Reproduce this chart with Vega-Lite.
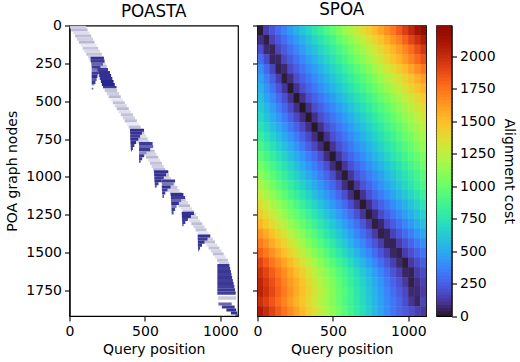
{"$schema":"https://vega.github.io/schema/vega-lite/v6.json","background":"white","padding":{"left":4.5,"top":1.5,"right":0,"bottom":0},"bounds":"flush","spacing":19,"config":{"font":"DejaVu Sans","view":{"stroke":"#000","strokeWidth":1.2},"axis":{"grid":false,"domainColor":"#000","domainWidth":1.2,"tickColor":"#000","tickWidth":1.1,"tickSize":5,"labelFontSize":14,"titleFontSize":14,"labelColor":"#000","titleColor":"#000","titleFontWeight":"normal","labelPadding":3,"labelFlush":false,"format":"d"},"title":{"fontSize":16.8,"fontWeight":"normal","color":"#000","offset":6}},"resolve":{"scale":{"color":"independent"}},"datasets":{"poasta":[
{"a":0,"b":110,"n":0,"m":20,"s":0.22},{"a":12,"b":120,"n":20,"m":40,"s":0.3},{"a":25,"b":132,"n":40,"m":60,"s":0.14},{"a":37,"b":144,"n":60,"m":80,"s":0.28},{"a":50,"b":156,"n":80,"m":100,"s":0.2},{"a":62,"b":166,"n":100,"m":120,"s":0.3},{"a":74,"b":178,"n":120,"m":140,"s":0.1},{"a":87,"b":190,"n":140,"m":160,"s":0.24},{"a":99,"b":202,"n":160,"m":180,"s":0.16},{"a":111,"b":214,"n":180,"m":200,"s":0.26},{"a":124,"b":224,"n":200,"m":220,"s":0.2},{"a":134,"b":232,"n":220,"m":240,"s":0.28},{"a":144,"b":240,"n":240,"m":260,"s":0.14},{"a":154,"b":248,"n":260,"m":280,"s":0.26},{"a":164,"b":256,"n":280,"m":300,"s":0.2},{"a":174,"b":264,"n":300,"m":320,"s":0.3},{"a":184,"b":272,"n":320,"m":340,"s":0.16},{"a":194,"b":280,"n":340,"m":360,"s":0.24},{"a":204,"b":290,"n":360,"m":380,"s":0.2},{"a":214,"b":300,"n":380,"m":400,"s":0.28},{"a":224,"b":308,"n":400,"m":420,"s":0.15},{"a":234,"b":316,"n":420,"m":440,"s":0.26},{"a":247,"b":328,"n":440,"m":460,"s":0.2},{"a":260,"b":340,"n":460,"m":480,"s":0.3},{"a":274,"b":354,"n":480,"m":500,"s":0.1},{"a":287,"b":367,"n":500,"m":520,"s":0.26},{"a":300,"b":380,"n":520,"m":540,"s":0.18},{"a":313,"b":393,"n":540,"m":560,"s":0.3},{"a":326,"b":406,"n":560,"m":580,"s":0.14},{"a":340,"b":420,"n":580,"m":600,"s":0.26},{"a":353,"b":433,"n":600,"m":620,"s":0.2},{"a":366,"b":446,"n":620,"m":640,"s":0.28},{"a":379,"b":459,"n":640,"m":660,"s":0.08},{"a":392,"b":472,"n":660,"m":680,"s":0.26},{"a":405,"b":485,"n":680,"m":700,"s":0.18},{"a":416,"b":496,"n":700,"m":720,"s":0.28},{"a":428,"b":508,"n":720,"m":740,"s":0.14},{"a":439,"b":519,"n":740,"m":760,"s":0.24},{"a":450,"b":530,"n":760,"m":780,"s":0.2},{"a":462,"b":542,"n":780,"m":800,"s":0.28},{"a":473,"b":553,"n":800,"m":820,"s":0.1},{"a":485,"b":565,"n":820,"m":840,"s":0.26},{"a":496,"b":576,"n":840,"m":860,"s":0.18},{"a":508,"b":588,"n":860,"m":880,"s":0.3},{"a":521,"b":601,"n":880,"m":900,"s":0.14},{"a":533,"b":613,"n":900,"m":920,"s":0.26},{"a":544,"b":624,"n":920,"m":940,"s":0.2},{"a":555,"b":635,"n":940,"m":960,"s":0.28},{"a":566,"b":646,"n":960,"m":980,"s":0.12},{"a":580,"b":660,"n":980,"m":1000,"s":0.26},{"a":594,"b":672,"n":1000,"m":1020,"s":0.18},{"a":608,"b":686,"n":1020,"m":1040,"s":0.3},{"a":623,"b":701,"n":1040,"m":1060,"s":0.14},{"a":637,"b":715,"n":1060,"m":1080,"s":0.24},{"a":651,"b":729,"n":1080,"m":1100,"s":0.18},{"a":666,"b":744,"n":1100,"m":1120,"s":0.28},{"a":680,"b":756,"n":1120,"m":1140,"s":0.08},{"a":694,"b":770,"n":1140,"m":1160,"s":0.26},{"a":708,"b":784,"n":1160,"m":1180,"s":0.18},{"a":723,"b":799,"n":1180,"m":1200,"s":0.3},{"a":737,"b":813,"n":1200,"m":1220,"s":0.14},{"a":751,"b":825,"n":1220,"m":1240,"s":0.26},{"a":766,"b":838,"n":1240,"m":1260,"s":0.2},{"a":780,"b":852,"n":1260,"m":1280,"s":0.24},{"a":794,"b":866,"n":1280,"m":1300,"s":0.14},{"a":808,"b":880,"n":1300,"m":1320,"s":0.28},{"a":822,"b":894,"n":1320,"m":1340,"s":0.2},{"a":836,"b":908,"n":1340,"m":1360,"s":0.26},{"a":851,"b":923,"n":1360,"m":1380,"s":0.1},{"a":865,"b":937,"n":1380,"m":1400,"s":0.26},{"a":879,"b":951,"n":1400,"m":1420,"s":0.2},{"a":893,"b":965,"n":1420,"m":1440,"s":0.28},{"a":907,"b":979,"n":1440,"m":1460,"s":0.14},{"a":922,"b":994,"n":1460,"m":1480,"s":0.26},{"a":936,"b":1008,"n":1480,"m":1500,"s":0.18},{"a":950,"b":1022,"n":1500,"m":1520,"s":0.28},{"a":964,"b":1036,"n":1520,"m":1540,"s":0.12},{"a":978,"b":1050,"n":1540,"m":1560,"s":0.26},{"a":990,"b":1058,"n":1560,"m":1580,"s":0.2},
{"a":140,"b":228,"n":206,"m":226,"s":0.95},{"a":142,"b":232,"n":226,"m":246,"s":0.9},{"a":145,"b":222,"n":246,"m":266,"s":0.7},{"a":147,"b":205,"n":266,"m":286,"s":0.9},{"a":147,"b":195,"n":286,"m":306,"s":0.6},{"a":147,"b":190,"n":306,"m":326,"s":0.9},{"a":147,"b":185,"n":326,"m":346,"s":0.95},{"a":147,"b":180,"n":346,"m":366,"s":0.75},{"a":147,"b":172,"n":366,"m":386,"s":0.9},{"a":147,"b":165,"n":386,"m":396,"s":0.5},{"a":147,"b":158,"n":411,"m":422,"s":0.7},
{"a":185,"b":255,"n":280,"m":300,"s":0.9},{"a":191,"b":268,"n":300,"m":320,"s":0.95},{"a":197,"b":276,"n":320,"m":340,"s":0.95},{"a":203,"b":284,"n":340,"m":360,"s":0.95},{"a":209,"b":292,"n":360,"m":380,"s":1},{"a":215,"b":300,"n":380,"m":400,"s":1},{"a":222,"b":312,"n":400,"m":414,"s":0.9},
{"a":401,"b":494,"n":682,"m":702,"s":0.95},{"a":402,"b":480,"n":702,"m":722,"s":0.95},{"a":402,"b":468,"n":722,"m":742,"s":0.9},{"a":403,"b":456,"n":742,"m":762,"s":0.95},{"a":404,"b":442,"n":762,"m":782,"s":0.95},{"a":405,"b":430,"n":782,"m":802,"s":0.9},{"a":406,"b":420,"n":802,"m":822,"s":0.9},{"a":408,"b":415,"n":822,"m":832,"s":0.8},
{"a":461,"b":551,"n":770,"m":790,"s":0.9},{"a":461,"b":555,"n":790,"m":810,"s":0.7},{"a":461,"b":535,"n":810,"m":830,"s":0.9},{"a":461,"b":510,"n":830,"m":850,"s":0.5},{"a":461,"b":495,"n":850,"m":870,"s":0.9},{"a":461,"b":482,"n":870,"m":890,"s":0.9},{"a":461,"b":472,"n":890,"m":907,"s":0.8},
{"a":560,"b":655,"n":956,"m":976,"s":0.95},{"a":561,"b":640,"n":976,"m":996,"s":0.95},{"a":562,"b":625,"n":996,"m":1016,"s":0.9},{"a":563,"b":610,"n":1016,"m":1036,"s":0.95},{"a":565,"b":590,"n":1036,"m":1056,"s":0.9},{"a":566,"b":578,"n":1056,"m":1070,"s":0.85},
{"a":611,"b":700,"n":1017,"m":1037,"s":0.9},{"a":612,"b":690,"n":1037,"m":1057,"s":0.6},{"a":612,"b":670,"n":1057,"m":1077,"s":0.95},{"a":613,"b":650,"n":1077,"m":1097,"s":0.9},{"a":614,"b":635,"n":1097,"m":1117,"s":0.9},{"a":616,"b":626,"n":1117,"m":1139,"s":0.8},
{"a":671,"b":755,"n":1106,"m":1126,"s":0.95},{"a":672,"b":766,"n":1126,"m":1146,"s":0.9},{"a":673,"b":740,"n":1146,"m":1166,"s":0.7},{"a":674,"b":725,"n":1166,"m":1186,"s":0.95},{"a":675,"b":710,"n":1186,"m":1206,"s":0.6},{"a":676,"b":700,"n":1206,"m":1226,"s":0.9},{"a":677,"b":690,"n":1226,"m":1249,"s":0.8},
{"a":744,"b":825,"n":1231,"m":1251,"s":0.95},{"a":745,"b":805,"n":1251,"m":1271,"s":0.95},{"a":746,"b":785,"n":1271,"m":1291,"s":0.9},{"a":747,"b":768,"n":1291,"m":1311,"s":0.9},{"a":748,"b":756,"n":1311,"m":1326,"s":0.85},
{"a":850,"b":932,"n":1381,"m":1401,"s":0.95},{"a":850,"b":915,"n":1401,"m":1421,"s":0.9},{"a":851,"b":895,"n":1421,"m":1441,"s":0.95},{"a":851,"b":878,"n":1441,"m":1461,"s":0.95},{"a":852,"b":865,"n":1461,"m":1481,"s":0.9},{"a":852,"b":857,"n":1481,"m":1491,"s":0.85},
{"a":980,"b":1060,"n":1575,"m":1595,"s":0.92},{"a":980,"b":1065,"n":1595,"m":1615,"s":0.88},{"a":980,"b":1070,"n":1615,"m":1635,"s":0.92},{"a":980,"b":1074,"n":1635,"m":1655,"s":0.88},{"a":980,"b":1078,"n":1655,"m":1675,"s":0.92},{"a":980,"b":1083,"n":1675,"m":1695,"s":0.88},{"a":980,"b":1088,"n":1695,"m":1715,"s":0.92},{"a":980,"b":1093,"n":1715,"m":1735,"s":0.88},{"a":980,"b":1097,"n":1735,"m":1755,"s":0.92},{"a":980,"b":1102,"n":1755,"m":1778,"s":0.88},
{"a":985,"b":1105,"n":1789,"m":1811,"s":0.22},
{"a":987,"b":1075,"n":1829,"m":1849,"s":0.7},{"a":1010,"b":1095,"n":1849,"m":1869,"s":0.9},{"a":1040,"b":1105,"n":1869,"m":1889,"s":0.95},{"a":1070,"b":1112,"n":1889,"m":1909,"s":0.95},{"a":1100,"b":1118,"n":1909,"m":1919,"s":0.9}
],"spoa":[
{"q":20,"n":32,"c":20},{"q":60,"n":32,"c":142},{"q":100,"n":32,"c":218},{"q":140,"n":32,"c":294},{"q":180,"n":32,"c":370},{"q":220,"n":32,"c":446},{"q":260,"n":32,"c":522},{"q":300,"n":32,"c":598},{"q":340,"n":32,"c":674},{"q":380,"n":32,"c":750},{"q":420,"n":32,"c":826},{"q":460,"n":32,"c":902},{"q":500,"n":32,"c":978},{"q":540,"n":32,"c":1054},{"q":580,"n":32,"c":1130},{"q":620,"n":32,"c":1206},{"q":660,"n":32,"c":1282},{"q":700,"n":32,"c":1358},{"q":740,"n":32,"c":1434},{"q":780,"n":32,"c":1510},{"q":820,"n":32,"c":1586},{"q":860,"n":32,"c":1662},{"q":900,"n":32,"c":1738},{"q":940,"n":32,"c":1834},{"q":980,"n":32,"c":1930},{"q":1020,"n":32,"c":2026},{"q":1060,"n":32,"c":2122},{"q":1100,"n":32,"c":2228},
{"q":20,"n":96,"c":90},{"q":60,"n":96,"c":30},{"q":100,"n":96,"c":153},{"q":140,"n":96,"c":227},{"q":180,"n":96,"c":301},{"q":220,"n":96,"c":375},{"q":260,"n":96,"c":449},{"q":300,"n":96,"c":523},{"q":340,"n":96,"c":597},{"q":380,"n":96,"c":671},{"q":420,"n":96,"c":745},{"q":460,"n":96,"c":819},{"q":500,"n":96,"c":893},{"q":540,"n":96,"c":967},{"q":580,"n":96,"c":1041},{"q":620,"n":96,"c":1115},{"q":660,"n":96,"c":1189},{"q":700,"n":96,"c":1263},{"q":740,"n":96,"c":1337},{"q":780,"n":96,"c":1411},{"q":820,"n":96,"c":1485},{"q":860,"n":96,"c":1559},{"q":900,"n":96,"c":1633},{"q":940,"n":96,"c":1707},{"q":980,"n":96,"c":1811},{"q":1020,"n":96,"c":1905},{"q":1060,"n":96,"c":1989},{"q":1100,"n":96,"c":2073},
{"q":20,"n":160,"c":200},{"q":60,"n":160,"c":70},{"q":100,"n":160,"c":50},{"q":140,"n":160,"c":164},{"q":180,"n":160,"c":236},{"q":220,"n":160,"c":308},{"q":260,"n":160,"c":380},{"q":300,"n":160,"c":452},{"q":340,"n":160,"c":524},{"q":380,"n":160,"c":596},{"q":420,"n":160,"c":668},{"q":460,"n":160,"c":740},{"q":500,"n":160,"c":812},{"q":540,"n":160,"c":884},{"q":580,"n":160,"c":956},{"q":620,"n":160,"c":1028},{"q":660,"n":160,"c":1100},{"q":700,"n":160,"c":1172},{"q":740,"n":160,"c":1244},{"q":780,"n":160,"c":1316},{"q":820,"n":160,"c":1388},{"q":860,"n":160,"c":1460},{"q":900,"n":160,"c":1532},{"q":940,"n":160,"c":1604},{"q":980,"n":160,"c":1696},{"q":1020,"n":160,"c":1778},{"q":1060,"n":160,"c":1870},{"q":1100,"n":160,"c":1962},
{"q":20,"n":224,"c":300},{"q":60,"n":224,"c":180},{"q":100,"n":224,"c":55},{"q":140,"n":224,"c":60},{"q":180,"n":224,"c":170},{"q":220,"n":224,"c":242},{"q":260,"n":224,"c":314},{"q":300,"n":224,"c":386},{"q":340,"n":224,"c":458},{"q":380,"n":224,"c":530},{"q":420,"n":224,"c":602},{"q":460,"n":224,"c":674},{"q":500,"n":224,"c":746},{"q":540,"n":224,"c":818},{"q":580,"n":224,"c":890},{"q":620,"n":224,"c":962},{"q":660,"n":224,"c":1034},{"q":700,"n":224,"c":1106},{"q":740,"n":224,"c":1178},{"q":780,"n":224,"c":1250},{"q":820,"n":224,"c":1322},{"q":860,"n":224,"c":1394},{"q":900,"n":224,"c":1466},{"q":940,"n":224,"c":1538},{"q":980,"n":224,"c":1620},{"q":1020,"n":224,"c":1702},{"q":1060,"n":224,"c":1784},{"q":1100,"n":224,"c":1866},
{"q":20,"n":288,"c":400},{"q":60,"n":288,"c":285},{"q":100,"n":288,"c":165},{"q":140,"n":288,"c":40},{"q":180,"n":288,"c":70},{"q":220,"n":288,"c":180},{"q":260,"n":288,"c":250},{"q":300,"n":288,"c":320},{"q":340,"n":288,"c":390},{"q":380,"n":288,"c":460},{"q":420,"n":288,"c":530},{"q":460,"n":288,"c":600},{"q":500,"n":288,"c":670},{"q":540,"n":288,"c":740},{"q":580,"n":288,"c":810},{"q":620,"n":288,"c":880},{"q":660,"n":288,"c":950},{"q":700,"n":288,"c":1020},{"q":740,"n":288,"c":1090},{"q":780,"n":288,"c":1160},{"q":820,"n":288,"c":1230},{"q":860,"n":288,"c":1300},{"q":900,"n":288,"c":1370},{"q":940,"n":288,"c":1440},{"q":980,"n":288,"c":1510},{"q":1020,"n":288,"c":1590},{"q":1060,"n":288,"c":1660},{"q":1100,"n":288,"c":1740},
{"q":20,"n":352,"c":470},{"q":60,"n":352,"c":360},{"q":100,"n":352,"c":250},{"q":140,"n":352,"c":140},{"q":180,"n":352,"c":25},{"q":220,"n":352,"c":85},{"q":260,"n":352,"c":190},{"q":300,"n":352,"c":258},{"q":340,"n":352,"c":326},{"q":380,"n":352,"c":394},{"q":420,"n":352,"c":462},{"q":460,"n":352,"c":530},{"q":500,"n":352,"c":598},{"q":540,"n":352,"c":666},{"q":580,"n":352,"c":734},{"q":620,"n":352,"c":802},{"q":660,"n":352,"c":870},{"q":700,"n":352,"c":938},{"q":740,"n":352,"c":1006},{"q":780,"n":352,"c":1074},{"q":820,"n":352,"c":1142},{"q":860,"n":352,"c":1210},{"q":900,"n":352,"c":1278},{"q":940,"n":352,"c":1346},{"q":980,"n":352,"c":1414},{"q":1020,"n":352,"c":1482},{"q":1060,"n":352,"c":1550},{"q":1100,"n":352,"c":1618},
{"q":20,"n":416,"c":525},{"q":60,"n":416,"c":420},{"q":100,"n":416,"c":315},{"q":140,"n":416,"c":215},{"q":180,"n":416,"c":115},{"q":220,"n":416,"c":15},{"q":260,"n":416,"c":100},{"q":300,"n":416,"c":200},{"q":340,"n":416,"c":267},{"q":380,"n":416,"c":334},{"q":420,"n":416,"c":401},{"q":460,"n":416,"c":468},{"q":500,"n":416,"c":535},{"q":540,"n":416,"c":602},{"q":580,"n":416,"c":669},{"q":620,"n":416,"c":736},{"q":660,"n":416,"c":803},{"q":700,"n":416,"c":870},{"q":740,"n":416,"c":937},{"q":780,"n":416,"c":1004},{"q":820,"n":416,"c":1071},{"q":860,"n":416,"c":1138},{"q":900,"n":416,"c":1205},{"q":940,"n":416,"c":1272},{"q":980,"n":416,"c":1339},{"q":1020,"n":416,"c":1406},{"q":1060,"n":416,"c":1473},{"q":1100,"n":416,"c":1540},
{"q":20,"n":480,"c":580},{"q":60,"n":480,"c":480},{"q":100,"n":480,"c":385},{"q":140,"n":480,"c":290},{"q":180,"n":480,"c":195},{"q":220,"n":480,"c":100},{"q":260,"n":480,"c":10},{"q":300,"n":480,"c":100},{"q":340,"n":480,"c":195},{"q":380,"n":480,"c":261},{"q":420,"n":480,"c":327},{"q":460,"n":480,"c":393},{"q":500,"n":480,"c":459},{"q":540,"n":480,"c":525},{"q":580,"n":480,"c":591},{"q":620,"n":480,"c":657},{"q":660,"n":480,"c":723},{"q":700,"n":480,"c":789},{"q":740,"n":480,"c":855},{"q":780,"n":480,"c":921},{"q":820,"n":480,"c":987},{"q":860,"n":480,"c":1053},{"q":900,"n":480,"c":1119},{"q":940,"n":480,"c":1185},{"q":980,"n":480,"c":1251},{"q":1020,"n":480,"c":1317},{"q":1060,"n":480,"c":1383},{"q":1100,"n":480,"c":1449},
{"q":20,"n":544,"c":625},{"q":60,"n":544,"c":540},{"q":100,"n":544,"c":450},{"q":140,"n":544,"c":360},{"q":180,"n":544,"c":270},{"q":220,"n":544,"c":180},{"q":260,"n":544,"c":90},{"q":300,"n":544,"c":8},{"q":340,"n":544,"c":95},{"q":380,"n":544,"c":190},{"q":420,"n":544,"c":256},{"q":460,"n":544,"c":322},{"q":500,"n":544,"c":388},{"q":540,"n":544,"c":454},{"q":580,"n":544,"c":520},{"q":620,"n":544,"c":586},{"q":660,"n":544,"c":652},{"q":700,"n":544,"c":718},{"q":740,"n":544,"c":784},{"q":780,"n":544,"c":850},{"q":820,"n":544,"c":916},{"q":860,"n":544,"c":982},{"q":900,"n":544,"c":1048},{"q":940,"n":544,"c":1114},{"q":980,"n":544,"c":1180},{"q":1020,"n":544,"c":1246},{"q":1060,"n":544,"c":1312},{"q":1100,"n":544,"c":1378},
{"q":20,"n":608,"c":680},{"q":60,"n":608,"c":595},{"q":100,"n":608,"c":510},{"q":140,"n":608,"c":425},{"q":180,"n":608,"c":340},{"q":220,"n":608,"c":255},{"q":260,"n":608,"c":170},{"q":300,"n":608,"c":85},{"q":340,"n":608,"c":10},{"q":380,"n":608,"c":95},{"q":420,"n":608,"c":190},{"q":460,"n":608,"c":256},{"q":500,"n":608,"c":322},{"q":540,"n":608,"c":388},{"q":580,"n":608,"c":454},{"q":620,"n":608,"c":520},{"q":660,"n":608,"c":586},{"q":700,"n":608,"c":652},{"q":740,"n":608,"c":718},{"q":780,"n":608,"c":784},{"q":820,"n":608,"c":850},{"q":860,"n":608,"c":916},{"q":900,"n":608,"c":982},{"q":940,"n":608,"c":1048},{"q":980,"n":608,"c":1114},{"q":1020,"n":608,"c":1180},{"q":1060,"n":608,"c":1246},{"q":1100,"n":608,"c":1312},
{"q":20,"n":672,"c":740},{"q":60,"n":672,"c":660},{"q":100,"n":672,"c":580},{"q":140,"n":672,"c":500},{"q":180,"n":672,"c":420},{"q":220,"n":672,"c":340},{"q":260,"n":672,"c":260},{"q":300,"n":672,"c":175},{"q":340,"n":672,"c":90},{"q":380,"n":672,"c":10},{"q":420,"n":672,"c":95},{"q":460,"n":672,"c":190},{"q":500,"n":672,"c":256},{"q":540,"n":672,"c":322},{"q":580,"n":672,"c":388},{"q":620,"n":672,"c":454},{"q":660,"n":672,"c":520},{"q":700,"n":672,"c":586},{"q":740,"n":672,"c":652},{"q":780,"n":672,"c":718},{"q":820,"n":672,"c":784},{"q":860,"n":672,"c":850},{"q":900,"n":672,"c":916},{"q":940,"n":672,"c":982},{"q":980,"n":672,"c":1048},{"q":1020,"n":672,"c":1114},{"q":1060,"n":672,"c":1180},{"q":1100,"n":672,"c":1246},
{"q":20,"n":736,"c":810},{"q":60,"n":736,"c":735},{"q":100,"n":736,"c":655},{"q":140,"n":736,"c":575},{"q":180,"n":736,"c":495},{"q":220,"n":736,"c":415},{"q":260,"n":736,"c":335},{"q":300,"n":736,"c":255},{"q":340,"n":736,"c":175},{"q":380,"n":736,"c":85},{"q":420,"n":736,"c":10},{"q":460,"n":736,"c":100},{"q":500,"n":736,"c":195},{"q":540,"n":736,"c":261},{"q":580,"n":736,"c":327},{"q":620,"n":736,"c":393},{"q":660,"n":736,"c":459},{"q":700,"n":736,"c":525},{"q":740,"n":736,"c":591},{"q":780,"n":736,"c":657},{"q":820,"n":736,"c":723},{"q":860,"n":736,"c":789},{"q":900,"n":736,"c":855},{"q":940,"n":736,"c":921},{"q":980,"n":736,"c":987},{"q":1020,"n":736,"c":1053},{"q":1060,"n":736,"c":1119},{"q":1100,"n":736,"c":1185},
{"q":20,"n":800,"c":900},{"q":60,"n":800,"c":820},{"q":100,"n":800,"c":740},{"q":140,"n":800,"c":660},{"q":180,"n":800,"c":580},{"q":220,"n":800,"c":500},{"q":260,"n":800,"c":420},{"q":300,"n":800,"c":335},{"q":340,"n":800,"c":250},{"q":380,"n":800,"c":170},{"q":420,"n":800,"c":85},{"q":460,"n":800,"c":12},{"q":500,"n":800,"c":105},{"q":540,"n":800,"c":200},{"q":580,"n":800,"c":266},{"q":620,"n":800,"c":332},{"q":660,"n":800,"c":398},{"q":700,"n":800,"c":464},{"q":740,"n":800,"c":530},{"q":780,"n":800,"c":596},{"q":820,"n":800,"c":662},{"q":860,"n":800,"c":728},{"q":900,"n":800,"c":794},{"q":940,"n":800,"c":860},{"q":980,"n":800,"c":926},{"q":1020,"n":800,"c":992},{"q":1060,"n":800,"c":1058},{"q":1100,"n":800,"c":1124},
{"q":20,"n":864,"c":965},{"q":60,"n":864,"c":890},{"q":100,"n":864,"c":815},{"q":140,"n":864,"c":735},{"q":180,"n":864,"c":660},{"q":220,"n":864,"c":585},{"q":260,"n":864,"c":510},{"q":300,"n":864,"c":430},{"q":340,"n":864,"c":355},{"q":380,"n":864,"c":280},{"q":420,"n":864,"c":195},{"q":460,"n":864,"c":85},{"q":500,"n":864,"c":15},{"q":540,"n":864,"c":110},{"q":580,"n":864,"c":205},{"q":620,"n":864,"c":271},{"q":660,"n":864,"c":337},{"q":700,"n":864,"c":403},{"q":740,"n":864,"c":469},{"q":780,"n":864,"c":535},{"q":820,"n":864,"c":601},{"q":860,"n":864,"c":667},{"q":900,"n":864,"c":733},{"q":940,"n":864,"c":799},{"q":980,"n":864,"c":865},{"q":1020,"n":864,"c":931},{"q":1060,"n":864,"c":997},{"q":1100,"n":864,"c":1063},
{"q":20,"n":928,"c":1040},{"q":60,"n":928,"c":965},{"q":100,"n":928,"c":885},{"q":140,"n":928,"c":810},{"q":180,"n":928,"c":735},{"q":220,"n":928,"c":660},{"q":260,"n":928,"c":585},{"q":300,"n":928,"c":505},{"q":340,"n":928,"c":430},{"q":380,"n":928,"c":355},{"q":420,"n":928,"c":280},{"q":460,"n":928,"c":195},{"q":500,"n":928,"c":85},{"q":540,"n":928,"c":18},{"q":580,"n":928,"c":112},{"q":620,"n":928,"c":208},{"q":660,"n":928,"c":274},{"q":700,"n":928,"c":340},{"q":740,"n":928,"c":406},{"q":780,"n":928,"c":472},{"q":820,"n":928,"c":538},{"q":860,"n":928,"c":604},{"q":900,"n":928,"c":670},{"q":940,"n":928,"c":736},{"q":980,"n":928,"c":802},{"q":1020,"n":928,"c":868},{"q":1060,"n":928,"c":934},{"q":1100,"n":928,"c":1000},
{"q":20,"n":992,"c":1110},{"q":60,"n":992,"c":1035},{"q":100,"n":992,"c":960},{"q":140,"n":992,"c":885},{"q":180,"n":992,"c":810},{"q":220,"n":992,"c":730},{"q":260,"n":992,"c":655},{"q":300,"n":992,"c":580},{"q":340,"n":992,"c":505},{"q":380,"n":992,"c":430},{"q":420,"n":992,"c":350},{"q":460,"n":992,"c":275},{"q":500,"n":992,"c":190},{"q":540,"n":992,"c":85},{"q":580,"n":992,"c":20},{"q":620,"n":992,"c":115},{"q":660,"n":992,"c":210},{"q":700,"n":992,"c":276},{"q":740,"n":992,"c":342},{"q":780,"n":992,"c":408},{"q":820,"n":992,"c":474},{"q":860,"n":992,"c":540},{"q":900,"n":992,"c":606},{"q":940,"n":992,"c":672},{"q":980,"n":992,"c":738},{"q":1020,"n":992,"c":804},{"q":1060,"n":992,"c":870},{"q":1100,"n":992,"c":936},
{"q":20,"n":1056,"c":1190},{"q":60,"n":1056,"c":1115},{"q":100,"n":1056,"c":1035},{"q":140,"n":1056,"c":960},{"q":180,"n":1056,"c":885},{"q":220,"n":1056,"c":810},{"q":260,"n":1056,"c":730},{"q":300,"n":1056,"c":655},{"q":340,"n":1056,"c":580},{"q":380,"n":1056,"c":505},{"q":420,"n":1056,"c":430},{"q":460,"n":1056,"c":350},{"q":500,"n":1056,"c":275},{"q":540,"n":1056,"c":190},{"q":580,"n":1056,"c":85},{"q":620,"n":1056,"c":20},{"q":660,"n":1056,"c":115},{"q":700,"n":1056,"c":210},{"q":740,"n":1056,"c":278},{"q":780,"n":1056,"c":346},{"q":820,"n":1056,"c":414},{"q":860,"n":1056,"c":482},{"q":900,"n":1056,"c":550},{"q":940,"n":1056,"c":618},{"q":980,"n":1056,"c":686},{"q":1020,"n":1056,"c":754},{"q":1060,"n":1056,"c":822},{"q":1100,"n":1056,"c":890},
{"q":20,"n":1120,"c":1270},{"q":60,"n":1120,"c":1195},{"q":100,"n":1120,"c":1120},{"q":140,"n":1120,"c":1045},{"q":180,"n":1120,"c":965},{"q":220,"n":1120,"c":890},{"q":260,"n":1120,"c":815},{"q":300,"n":1120,"c":740},{"q":340,"n":1120,"c":665},{"q":380,"n":1120,"c":585},{"q":420,"n":1120,"c":510},{"q":460,"n":1120,"c":435},{"q":500,"n":1120,"c":360},{"q":540,"n":1120,"c":280},{"q":580,"n":1120,"c":195},{"q":620,"n":1120,"c":90},{"q":660,"n":1120,"c":12},{"q":700,"n":1120,"c":105},{"q":740,"n":1120,"c":205},{"q":780,"n":1120,"c":273},{"q":820,"n":1120,"c":341},{"q":860,"n":1120,"c":409},{"q":900,"n":1120,"c":477},{"q":940,"n":1120,"c":545},{"q":980,"n":1120,"c":613},{"q":1020,"n":1120,"c":681},{"q":1060,"n":1120,"c":749},{"q":1100,"n":1120,"c":817},
{"q":20,"n":1184,"c":1360},{"q":60,"n":1184,"c":1285},{"q":100,"n":1184,"c":1205},{"q":140,"n":1184,"c":1130},{"q":180,"n":1184,"c":1055},{"q":220,"n":1184,"c":980},{"q":260,"n":1184,"c":905},{"q":300,"n":1184,"c":825},{"q":340,"n":1184,"c":750},{"q":380,"n":1184,"c":675},{"q":420,"n":1184,"c":600},{"q":460,"n":1184,"c":520},{"q":500,"n":1184,"c":445},{"q":540,"n":1184,"c":370},{"q":580,"n":1184,"c":290},{"q":620,"n":1184,"c":200},{"q":660,"n":1184,"c":105},{"q":700,"n":1184,"c":14},{"q":740,"n":1184,"c":90},{"q":780,"n":1184,"c":190},{"q":820,"n":1184,"c":258},{"q":860,"n":1184,"c":326},{"q":900,"n":1184,"c":394},{"q":940,"n":1184,"c":462},{"q":980,"n":1184,"c":530},{"q":1020,"n":1184,"c":598},{"q":1060,"n":1184,"c":666},{"q":1100,"n":1184,"c":734},
{"q":20,"n":1248,"c":1440},{"q":60,"n":1248,"c":1365},{"q":100,"n":1248,"c":1290},{"q":140,"n":1248,"c":1215},{"q":180,"n":1248,"c":1135},{"q":220,"n":1248,"c":1060},{"q":260,"n":1248,"c":985},{"q":300,"n":1248,"c":910},{"q":340,"n":1248,"c":835},{"q":380,"n":1248,"c":755},{"q":420,"n":1248,"c":680},{"q":460,"n":1248,"c":605},{"q":500,"n":1248,"c":530},{"q":540,"n":1248,"c":455},{"q":580,"n":1248,"c":375},{"q":620,"n":1248,"c":300},{"q":660,"n":1248,"c":210},{"q":700,"n":1248,"c":115},{"q":740,"n":1248,"c":22},{"q":780,"n":1248,"c":80},{"q":820,"n":1248,"c":180},{"q":860,"n":1248,"c":248},{"q":900,"n":1248,"c":316},{"q":940,"n":1248,"c":384},{"q":980,"n":1248,"c":452},{"q":1020,"n":1248,"c":520},{"q":1060,"n":1248,"c":588},{"q":1100,"n":1248,"c":656},
{"q":20,"n":1312,"c":1530},{"q":60,"n":1312,"c":1450},{"q":100,"n":1312,"c":1375},{"q":140,"n":1312,"c":1300},{"q":180,"n":1312,"c":1225},{"q":220,"n":1312,"c":1145},{"q":260,"n":1312,"c":1070},{"q":300,"n":1312,"c":995},{"q":340,"n":1312,"c":920},{"q":380,"n":1312,"c":840},{"q":420,"n":1312,"c":765},{"q":460,"n":1312,"c":690},{"q":500,"n":1312,"c":615},{"q":540,"n":1312,"c":540},{"q":580,"n":1312,"c":460},{"q":620,"n":1312,"c":385},{"q":660,"n":1312,"c":310},{"q":700,"n":1312,"c":225},{"q":740,"n":1312,"c":130},{"q":780,"n":1312,"c":30},{"q":820,"n":1312,"c":65},{"q":860,"n":1312,"c":170},{"q":900,"n":1312,"c":238},{"q":940,"n":1312,"c":306},{"q":980,"n":1312,"c":374},{"q":1020,"n":1312,"c":442},{"q":1060,"n":1312,"c":510},{"q":1100,"n":1312,"c":578},
{"q":20,"n":1376,"c":1640},{"q":60,"n":1376,"c":1560},{"q":100,"n":1376,"c":1480},{"q":140,"n":1376,"c":1400},{"q":180,"n":1376,"c":1325},{"q":220,"n":1376,"c":1245},{"q":260,"n":1376,"c":1165},{"q":300,"n":1376,"c":1090},{"q":340,"n":1376,"c":1010},{"q":380,"n":1376,"c":930},{"q":420,"n":1376,"c":850},{"q":460,"n":1376,"c":770},{"q":500,"n":1376,"c":695},{"q":540,"n":1376,"c":615},{"q":580,"n":1376,"c":540},{"q":620,"n":1376,"c":460},{"q":660,"n":1376,"c":380},{"q":700,"n":1376,"c":305},{"q":740,"n":1376,"c":225},{"q":780,"n":1376,"c":135},{"q":820,"n":1376,"c":35},{"q":860,"n":1376,"c":55},{"q":900,"n":1376,"c":155},{"q":940,"n":1376,"c":223},{"q":980,"n":1376,"c":291},{"q":1020,"n":1376,"c":359},{"q":1060,"n":1376,"c":427},{"q":1100,"n":1376,"c":495},
{"q":20,"n":1440,"c":1730},{"q":60,"n":1440,"c":1650},{"q":100,"n":1440,"c":1570},{"q":140,"n":1440,"c":1490},{"q":180,"n":1440,"c":1410},{"q":220,"n":1440,"c":1330},{"q":260,"n":1440,"c":1250},{"q":300,"n":1440,"c":1170},{"q":340,"n":1440,"c":1090},{"q":380,"n":1440,"c":1010},{"q":420,"n":1440,"c":930},{"q":460,"n":1440,"c":850},{"q":500,"n":1440,"c":775},{"q":540,"n":1440,"c":695},{"q":580,"n":1440,"c":615},{"q":620,"n":1440,"c":535},{"q":660,"n":1440,"c":455},{"q":700,"n":1440,"c":375},{"q":740,"n":1440,"c":295},{"q":780,"n":1440,"c":215},{"q":820,"n":1440,"c":140},{"q":860,"n":1440,"c":50},{"q":900,"n":1440,"c":45},{"q":940,"n":1440,"c":140},{"q":980,"n":1440,"c":205},{"q":1020,"n":1440,"c":270},{"q":1060,"n":1440,"c":335},{"q":1100,"n":1440,"c":400},
{"q":20,"n":1504,"c":1815},{"q":60,"n":1504,"c":1735},{"q":100,"n":1504,"c":1655},{"q":140,"n":1504,"c":1575},{"q":180,"n":1504,"c":1495},{"q":220,"n":1504,"c":1415},{"q":260,"n":1504,"c":1335},{"q":300,"n":1504,"c":1255},{"q":340,"n":1504,"c":1175},{"q":380,"n":1504,"c":1095},{"q":420,"n":1504,"c":1015},{"q":460,"n":1504,"c":935},{"q":500,"n":1504,"c":855},{"q":540,"n":1504,"c":775},{"q":580,"n":1504,"c":695},{"q":620,"n":1504,"c":615},{"q":660,"n":1504,"c":535},{"q":700,"n":1504,"c":455},{"q":740,"n":1504,"c":375},{"q":780,"n":1504,"c":295},{"q":820,"n":1504,"c":215},{"q":860,"n":1504,"c":145},{"q":900,"n":1504,"c":60},{"q":940,"n":1504,"c":40},{"q":980,"n":1504,"c":135},{"q":1020,"n":1504,"c":200},{"q":1060,"n":1504,"c":260},{"q":1100,"n":1504,"c":320},
{"q":20,"n":1568,"c":1910},{"q":60,"n":1568,"c":1830},{"q":100,"n":1568,"c":1750},{"q":140,"n":1568,"c":1670},{"q":180,"n":1568,"c":1585},{"q":220,"n":1568,"c":1505},{"q":260,"n":1568,"c":1425},{"q":300,"n":1568,"c":1345},{"q":340,"n":1568,"c":1265},{"q":380,"n":1568,"c":1185},{"q":420,"n":1568,"c":1105},{"q":460,"n":1568,"c":1025},{"q":500,"n":1568,"c":945},{"q":540,"n":1568,"c":865},{"q":580,"n":1568,"c":785},{"q":620,"n":1568,"c":705},{"q":660,"n":1568,"c":625},{"q":700,"n":1568,"c":545},{"q":740,"n":1568,"c":465},{"q":780,"n":1568,"c":385},{"q":820,"n":1568,"c":305},{"q":860,"n":1568,"c":225},{"q":900,"n":1568,"c":150},{"q":940,"n":1568,"c":70},{"q":980,"n":1568,"c":25},{"q":1020,"n":1568,"c":125},{"q":1060,"n":1568,"c":185},{"q":1100,"n":1568,"c":240},
{"q":20,"n":1632,"c":1985},{"q":60,"n":1632,"c":1905},{"q":100,"n":1632,"c":1825},{"q":140,"n":1632,"c":1745},{"q":180,"n":1632,"c":1665},{"q":220,"n":1632,"c":1580},{"q":260,"n":1632,"c":1500},{"q":300,"n":1632,"c":1420},{"q":340,"n":1632,"c":1340},{"q":380,"n":1632,"c":1260},{"q":420,"n":1632,"c":1180},{"q":460,"n":1632,"c":1100},{"q":500,"n":1632,"c":1020},{"q":540,"n":1632,"c":940},{"q":580,"n":1632,"c":860},{"q":620,"n":1632,"c":780},{"q":660,"n":1632,"c":700},{"q":700,"n":1632,"c":620},{"q":740,"n":1632,"c":540},{"q":780,"n":1632,"c":460},{"q":820,"n":1632,"c":380},{"q":860,"n":1632,"c":300},{"q":900,"n":1632,"c":220},{"q":940,"n":1632,"c":150},{"q":980,"n":1632,"c":60},{"q":1020,"n":1632,"c":45},{"q":1060,"n":1632,"c":130},{"q":1100,"n":1632,"c":180},
{"q":20,"n":1696,"c":2030},{"q":60,"n":1696,"c":1950},{"q":100,"n":1696,"c":1870},{"q":140,"n":1696,"c":1790},{"q":180,"n":1696,"c":1705},{"q":220,"n":1696,"c":1625},{"q":260,"n":1696,"c":1545},{"q":300,"n":1696,"c":1465},{"q":340,"n":1696,"c":1385},{"q":380,"n":1696,"c":1305},{"q":420,"n":1696,"c":1225},{"q":460,"n":1696,"c":1145},{"q":500,"n":1696,"c":1065},{"q":540,"n":1696,"c":985},{"q":580,"n":1696,"c":905},{"q":620,"n":1696,"c":825},{"q":660,"n":1696,"c":745},{"q":700,"n":1696,"c":665},{"q":740,"n":1696,"c":585},{"q":780,"n":1696,"c":505},{"q":820,"n":1696,"c":425},{"q":860,"n":1696,"c":345},{"q":900,"n":1696,"c":275},{"q":940,"n":1696,"c":205},{"q":980,"n":1696,"c":125},{"q":1020,"n":1696,"c":35},{"q":1060,"n":1696,"c":90},{"q":1100,"n":1696,"c":150},
{"q":20,"n":1760,"c":2050},{"q":60,"n":1760,"c":1975},{"q":100,"n":1760,"c":1895},{"q":140,"n":1760,"c":1815},{"q":180,"n":1760,"c":1730},{"q":220,"n":1760,"c":1650},{"q":260,"n":1760,"c":1565},{"q":300,"n":1760,"c":1490},{"q":340,"n":1760,"c":1410},{"q":380,"n":1760,"c":1330},{"q":420,"n":1760,"c":1250},{"q":460,"n":1760,"c":1170},{"q":500,"n":1760,"c":1090},{"q":540,"n":1760,"c":1010},{"q":580,"n":1760,"c":930},{"q":620,"n":1760,"c":850},{"q":660,"n":1760,"c":770},{"q":700,"n":1760,"c":690},{"q":740,"n":1760,"c":610},{"q":780,"n":1760,"c":530},{"q":820,"n":1760,"c":450},{"q":860,"n":1760,"c":375},{"q":900,"n":1760,"c":305},{"q":940,"n":1760,"c":240},{"q":980,"n":1760,"c":175},{"q":1020,"n":1760,"c":70},{"q":1060,"n":1760,"c":70},{"q":1100,"n":1760,"c":130},
{"q":20,"n":1824,"c":1990},{"q":60,"n":1824,"c":1925},{"q":100,"n":1824,"c":1850},{"q":140,"n":1824,"c":1775},{"q":180,"n":1824,"c":1695},{"q":220,"n":1824,"c":1620},{"q":260,"n":1824,"c":1540},{"q":300,"n":1824,"c":1465},{"q":340,"n":1824,"c":1390},{"q":380,"n":1824,"c":1310},{"q":420,"n":1824,"c":1235},{"q":460,"n":1824,"c":1160},{"q":500,"n":1824,"c":1085},{"q":540,"n":1824,"c":1005},{"q":580,"n":1824,"c":925},{"q":620,"n":1824,"c":850},{"q":660,"n":1824,"c":775},{"q":700,"n":1824,"c":700},{"q":740,"n":1824,"c":625},{"q":780,"n":1824,"c":545},{"q":820,"n":1824,"c":470},{"q":860,"n":1824,"c":395},{"q":900,"n":1824,"c":330},{"q":940,"n":1824,"c":270},{"q":980,"n":1824,"c":200},{"q":1020,"n":1824,"c":105},{"q":1060,"n":1824,"c":55},{"q":1100,"n":1824,"c":160},
{"q":20,"n":1888,"c":2080},{"q":60,"n":1888,"c":2000},{"q":100,"n":1888,"c":1915},{"q":140,"n":1888,"c":1835},{"q":180,"n":1888,"c":1755},{"q":220,"n":1888,"c":1675},{"q":260,"n":1888,"c":1595},{"q":300,"n":1888,"c":1515},{"q":340,"n":1888,"c":1435},{"q":380,"n":1888,"c":1355},{"q":420,"n":1888,"c":1275},{"q":460,"n":1888,"c":1195},{"q":500,"n":1888,"c":1115},{"q":540,"n":1888,"c":1035},{"q":580,"n":1888,"c":955},{"q":620,"n":1888,"c":875},{"q":660,"n":1888,"c":795},{"q":700,"n":1888,"c":715},{"q":740,"n":1888,"c":635},{"q":780,"n":1888,"c":555},{"q":820,"n":1888,"c":475},{"q":860,"n":1888,"c":400},{"q":900,"n":1888,"c":330},{"q":940,"n":1888,"c":270},{"q":980,"n":1888,"c":230},{"q":1020,"n":1888,"c":190},{"q":1060,"n":1888,"c":150},{"q":1100,"n":1888,"c":120}
],"bar":[{"c":0},{"c":25},{"c":50},{"c":75},{"c":100},{"c":125},{"c":150},{"c":175},{"c":200},{"c":225},{"c":250},{"c":275},{"c":300},{"c":325},{"c":350},{"c":375},{"c":400},{"c":425},{"c":450},{"c":475},{"c":500},{"c":525},{"c":550},{"c":575},{"c":600},{"c":625},{"c":650},{"c":675},{"c":700},{"c":725},{"c":750},{"c":775},{"c":800},{"c":825},{"c":850},{"c":875},{"c":900},{"c":925},{"c":950},{"c":975},{"c":1000},{"c":1025},{"c":1050},{"c":1075},{"c":1100},{"c":1125},{"c":1150},{"c":1175},{"c":1200},{"c":1225},{"c":1250},{"c":1275},{"c":1300},{"c":1325},{"c":1350},{"c":1375},{"c":1400},{"c":1425},{"c":1450},{"c":1475},{"c":1500},{"c":1525},{"c":1550},{"c":1575},{"c":1600},{"c":1625},{"c":1650},{"c":1675},{"c":1700},{"c":1725},{"c":1750},{"c":1775},{"c":1800},{"c":1825},{"c":1850},{"c":1875},{"c":1900},{"c":1925},{"c":1950},{"c":1975},{"c":2000},{"c":2025},{"c":2050},{"c":2075},{"c":2100},{"c":2125},{"c":2150},{"c":2175},{"c":2200},{"c":2225}]},
"hconcat":[
{"width":168.5,"height":290.5,"title":{"text":"POASTA","offset":-2},"data":{"name":"poasta"},"mark":{"type":"rect","clip":true},"encoding":{
"x":{"field":"a","type":"quantitative","scale":{"domain":[0,1117],"nice":false},"axis":{"values":[0,500,1000],"title":"Query position"}},"x2":{"field":"b"},
"y":{"field":"n","type":"quantitative","scale":{"domain":[0,1919],"nice":false,"reverse":true},"axis":{"values":[0,250,500,750,1000,1250,1500,1750],"title":"POA graph nodes","titlePadding":6}},"y2":{"field":"m"},
"color":{"field":"s","type":"quantitative","scale":{"domain":[0,0.25,1],"range":["#ffffff","#c4c4d6","#26268c"]},"legend":null}}},
{"hconcat":[
{"width":168.5,"height":290.5,"title":"SPOA","data":{"name":"spoa"},"mark":{"type":"rect","clip":true,"width":6.5,"height":10.2},"encoding":{
"x":{"field":"q","type":"quantitative","scale":{"domain":[0,1117],"nice":false},"axis":{"values":[0,500,1000],"title":"Query position"}},
"y":{"field":"n","type":"quantitative","scale":{"domain":[0,1919],"nice":false,"reverse":true},"axis":{"values":[0,250,500,750,1000,1250,1500,1750],"labels":false,"title":null}},
"color":{"field":"c","type":"quantitative","scale":{"scheme":"turbo","domain":[0,2237]},"legend":null}}},
{"width":15,"height":290.5,"data":{"name":"bar"},"mark":{"type":"rect","clip":true,"height":4},"encoding":{
"y":{"field":"c","type":"quantitative","scale":{"domain":[0,2237],"nice":false},"axis":{"orient":"right","values":[0,250,500,750,1000,1250,1500,1750,2000],"title":"Alignment cost","titleAngle":90,"titlePadding":6}},
"color":{"field":"c","type":"quantitative","scale":{"scheme":"turbo","domain":[0,2237]},"legend":null}}}
],"spacing":10,"bounds":"flush"}
]}
